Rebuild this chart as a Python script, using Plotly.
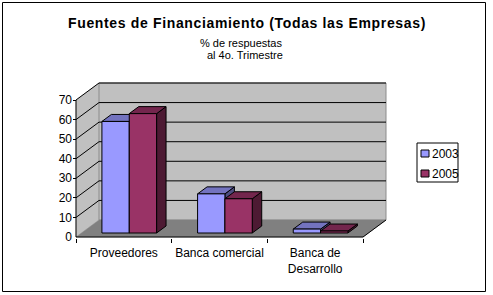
import plotly.graph_objects as go

# ---------------- data ----------------
categories = ["Proveedores", "Banca comercial", "Banca de<br>Desarrollo"]
series_names = ["2003", "2005"]
values_2003 = [57, 20, 2]
values_2005 = [61, 17.5, 1]
y_tick_values = [0, 10, 20, 30, 40, 50, 60, 70]

title_text = "Fuentes de Financiamiento (Todas las Empresas)"
subtitle_1 = "% de respuestas"
subtitle_2 = "al 4o. Trimestre"

# ---------------- styles / layout geometry ----------------
W, H = 493, 295
L, R, T, B = 73, 387, 81, 238          # plot-area pixels
FX0, FX1 = 76, 363                      # front plane x pixels (cat edges)
FY0, FY70 = 237, 100                    # front plane y pixels for 0 and 70
DEPTH_X, DEPTH_Y = 23, 17               # 3-D depth in pixels
F_FRONT, F_BACK = 4 / 17, 11 / 17       # bar depth fractions
GAP = 1.5                               # gap width (fraction of bar width)

front_colors = ["#9999FF", "#993366"]
top_colors = ["#7373BF", "#73264D"]
side_colors = ["#4D4D80", "#4D1A33"]
WALL = "#C0C0C0"
FLOOR = "#808080"
FONT = "Liberation Sans, Arial, sans-serif"

ncat = len(categories)
ymax_tick = max(y_tick_values)
pxu_x = (FX1 - FX0) / ncat
pxu_y = (FY0 - FY70) / ymax_tick
x_lo = -0.5
x_hi = ncat - 0.5
xr = [x_lo - (FX0 - L) / pxu_x, x_lo + (R - FX0) / pxu_x]
yr = [-(B - FY0) / pxu_y, (FY0 - T) / pxu_y]
dxu = DEPTH_X / pxu_x
dyu = DEPTH_Y / pxu_y


def px2paper_x(px):
    return (px - L) / (R - L)


def px2paper_y(py):
    return (B - py) / (B - T)


fig = go.Figure()


def poly(xs, ys, fill, line_color, line_width=1):
    fig.add_trace(go.Scatter(
        x=xs, y=ys, mode="lines", fill="toself", fillcolor=fill,
        line=dict(color=line_color, width=line_width),
        hoverinfo="skip", showlegend=False))


def line(xs, ys, color="black", width=1):
    fig.add_trace(go.Scatter(
        x=xs, y=ys, mode="lines", line=dict(color=color, width=width),
        hoverinfo="skip", showlegend=False))


# walls
poly([x_lo, x_lo, x_lo + dxu, x_lo + dxu, x_lo],
     [0, ymax_tick, ymax_tick + dyu, dyu, 0], WALL, WALL, 0.5)
poly([x_lo + dxu, x_hi + dxu, x_hi + dxu, x_lo + dxu, x_lo + dxu],
     [dyu, dyu, ymax_tick + dyu, ymax_tick + dyu, dyu], WALL, "#8C8C8C", 1)
poly([x_lo, x_hi, x_hi + dxu, x_lo + dxu, x_lo],
     [0, 0, dyu, dyu, 0], FLOOR, FLOOR, 0.5)

# gridlines
gx, gy = [], []
for v in y_tick_values[1:]:
    gx += [x_lo, x_lo + dxu, x_hi + dxu, None]
    gy += [v, v + dyu, v + dyu, None]
line(gx, gy)

# axis lines / floor edge
line([x_lo, x_lo], [0, ymax_tick])
line([x_lo, x_hi, x_hi + dxu], [0, 0, dyu])

# bars
series_values = [values_2003, values_2005]
nser = len(series_values)
w = 1 / (nser + GAP)
for j, vals in enumerate(series_values):
    sx, sy, tx, ty, fx, fy = [], [], [], [], [], []
    for i, v in enumerate(vals):
        xl = i - nser * w / 2 + j * w
        a0, b0 = F_FRONT * dxu, F_FRONT * dyu
        a1, b1 = F_BACK * dxu, F_BACK * dyu
        sx += [xl + w + a0, xl + w + a1, xl + w + a1, xl + w + a0, xl + w + a0, None]
        sy += [b0, b1, v + b1, v + b0, b0, None]
        tx += [xl + a0, xl + w + a0, xl + w + a1, xl + a1, xl + a0, None]
        ty += [v + b0, v + b0, v + b1, v + b1, v + b0, None]
        fx += [xl + a0, xl + w + a0, xl + w + a0, xl + a0, xl + a0, None]
        fy += [b0, b0, v + b0, v + b0, b0, None]
    poly(sx, sy, side_colors[j], "black")
    poly(tx, ty, top_colors[j], "black")
    poly(fx, fy, front_colors[j], "black")

# invisible trace for category-label axis
fig.add_trace(go.Scatter(x=[0], y=[None], xaxis="x2", mode="lines",
                         hoverinfo="skip", showlegend=False))

axis_font = dict(family=FONT, size=12, color="black")
fig.update_layout(
    width=W, height=H,
    margin=dict(l=L, r=W - R, t=T, b=H - B),
    paper_bgcolor="white", plot_bgcolor="rgba(0,0,0,0)",
    showlegend=False,
    font=dict(family=FONT, size=12, color="black"),
    xaxis=dict(range=xr, tickvals=[x_lo + k for k in range(ncat + 1)],
               ticks="outside", ticklen=4, tickcolor="black", tickwidth=1,
               showticklabels=False, showgrid=False, zeroline=False,
               showline=False, fixedrange=True),
    xaxis2=dict(range=xr, overlaying="x", anchor="y", side="bottom",
                tickvals=list(range(ncat)), ticktext=categories,
                ticks="outside", ticklen=4, tickcolor="rgba(0,0,0,0)",
                tickfont=axis_font, showgrid=False, zeroline=False,
                showline=False, fixedrange=True),
    yaxis=dict(range=yr, tickvals=y_tick_values, ticks="inside", ticklen=3,
               tickcolor="black", tickwidth=1, tickfont=axis_font,
               showgrid=False, zeroline=False, showline=False,
               fixedrange=True),
)

# titles
fig.add_annotation(text="<span style='letter-spacing:0.65px'><b>" + title_text + "</b></span>",
                   xref="paper", yref="paper",
                   x=px2paper_x(246.5), y=px2paper_y(23), xanchor="center", yanchor="middle",
                   showarrow=False, font=dict(family=FONT, size=14, color="black"))
fig.add_annotation(text=subtitle_1, xref="paper", yref="paper",
                   x=px2paper_x(241), y=px2paper_y(43), xanchor="center", yanchor="middle",
                   showarrow=False, font=dict(family=FONT, size=11, color="black"))
fig.add_annotation(text=subtitle_2, xref="paper", yref="paper",
                   x=px2paper_x(245), y=px2paper_y(55), xanchor="center", yanchor="middle",
                   showarrow=False, font=dict(family=FONT, size=11, color="black"))

# manual legend
fig.add_shape(type="rect", xref="paper", yref="paper",
              x0=px2paper_x(417), x1=px2paper_x(458),
              y0=px2paper_y(143), y1=px2paper_y(182),
              line=dict(color="black", width=1), fillcolor="white")
for j, name in enumerate(series_names):
    yc = 153.5 + 20 * j
    fig.add_shape(type="rect", xref="paper", yref="paper",
                  x0=px2paper_x(421), x1=px2paper_x(429),
                  y0=px2paper_y(yc + 3.5), y1=px2paper_y(yc - 3.5),
                  line=dict(color="black", width=1), fillcolor=front_colors[j])
    fig.add_annotation(text=name, xref="paper", yref="paper",
                       x=px2paper_x(430), y=px2paper_y(yc), xanchor="left",
                       yanchor="middle", showarrow=False,
                       font=dict(family=FONT, size=12, color="black"))

# outer border
fig.add_shape(type="rect", xref="paper", yref="paper",
              x0=px2paper_x(2.5), x1=px2paper_x(485.5),
              y0=px2paper_y(291.5), y1=px2paper_y(2.5),
              line=dict(color="black", width=1))

fig.write_html("out.html")
